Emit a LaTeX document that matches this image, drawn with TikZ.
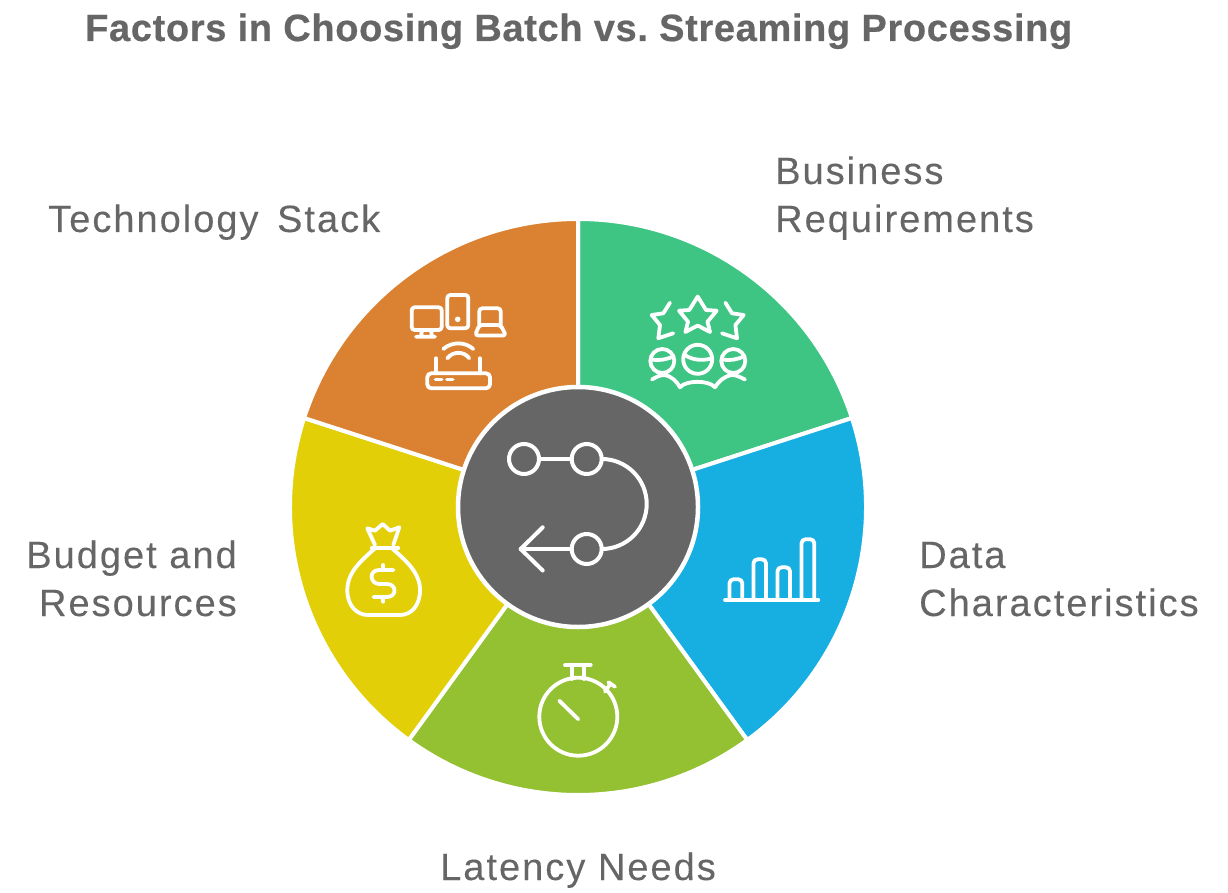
\documentclass[tikz,border=0pt]{standalone}
\usepackage{fontspec}
\setmainfont{Liberation Sans}[LetterSpace=5.3,FakeBold=0.15]
\newfontfamily\titlefam{Liberation Sans}[LetterSpace=1.74,FakeBold=0.5]
\definecolor{cgreen}{HTML}{3EC483}
\definecolor{cblue}{HTML}{17AEE2}
\definecolor{clime}{HTML}{94C131}
\definecolor{cyellow}{HTML}{E2CF08}
\definecolor{corange}{HTML}{DB8232}
\definecolor{cgray}{HTML}{666666}
\tikzset{
  wedgeshape/.style={draw=white,line width=4pt,line join=round},
  iconline/.style={draw=white,line width=3.8pt,line cap=round,line join=round},
  hubline/.style={draw=white,line width=4pt,line cap=round,line join=round},
  label/.style={text=cgray,font=\fontsize{38}{46}\selectfont\frenchspacing,inner sep=0pt,anchor=base west},
  labelr/.style={label,anchor=base east},
  titletext/.style={text=cgray,font=\titlefam\fontsize{38}{46}\selectfont\bfseries\frenchspacing,inner sep=0pt,anchor=base west}
}
\begin{document}
\begin{tikzpicture}[x=1pt,y=-1pt]
\useasboundingbox (0,0) rectangle (1228,893);
\fill[white] (0,0) rectangle (1228,893);
\coordinate (c) at (578,507);
\def\R{288}
\filldraw[wedgeshape,fill=cgreen]  (c) -- ++(-90:\R) arc[start angle=-90,end angle=-18,radius=\R] -- cycle;
\filldraw[wedgeshape,fill=cblue]   (c) -- ++(-18:\R) arc[start angle=-18,end angle=54,radius=\R] -- cycle;
\filldraw[wedgeshape,fill=clime]   (c) -- ++(54:\R) arc[start angle=54,end angle=126,radius=\R] -- cycle;
\filldraw[wedgeshape,fill=cyellow] (c) -- ++(126:\R) arc[start angle=126,end angle=198,radius=\R] -- cycle;
\filldraw[wedgeshape,fill=corange] (c) -- ++(198:\R) arc[start angle=198,end angle=270,radius=\R] -- cycle;
\filldraw[draw=white,line width=4.5pt,fill=cgray] (c) circle[radius=120];
% hub icon
\draw[hubline] (524,459) circle[radius=15];
\draw[hubline] (586.7,459) circle[radius=15];
\draw[hubline] (586.7,549) circle[radius=15];
\draw[hubline] (539,459) -- (571.7,459);
\draw[hubline] (601.7,459) arc[start angle=-90,end angle=90,radius=45];
\draw[hubline] (571.7,549) -- (520.7,549);
\draw[hubline] (542.7,527.3) -- (520.7,549) -- (542.7,570.5);
% stars and people
\draw[iconline] (697.7,296.5) -- (706,310) -- (716.7,310.7) -- (707.5,321.7) -- (710,332) -- (697.7,325.5) -- (685.4,332) -- (688,321.7) -- (679,310.7) -- (689.3,310) -- cycle;
\draw[iconline] (670,302.7) -- (663.3,313.3) -- (651.7,315) -- (660,325) -- (658.3,338.3) -- (673.3,333.3);
\draw[iconline] (725.4,302.7) -- (732,313.3) -- (743.7,315) -- (735.4,325) -- (737,338.3) -- (722,333.3);
\draw[iconline] (697.7,359.3) circle[radius=14.5];
\draw[iconline] (662.3,361) circle[radius=12];
\draw[iconline] (733.3,361) circle[radius=12];
\draw[iconline] (685,355) .. controls (692,360) and (702,361) .. (711.7,358.5);
\draw[iconline] (651.5,359.5) .. controls (658,361) and (666,359.5) .. (673.5,356.5);
\draw[iconline] (722.5,359.5) .. controls (729,361) and (737,359.5) .. (744,356.5);
\draw[iconline] (652,379.5) .. controls (656,377) and (660,375) .. (664,375) .. controls (672,376) and (677,382) .. (680,387.3) .. controls (686,380) and (709,380) .. (715,387.3) .. controls (718,382) and (724,376) .. (732,375) .. controls (736,375) and (740,377) .. (745,379.5);
% devices
\draw[iconline,rounded corners=3pt] (411.7,307.3) rectangle (441.7,330);
\draw[iconline] (422,330) -- (421,336.7) (431,330) -- (432,336.7) (416,336.7) -- (435,336.7);
\draw[iconline,rounded corners=3pt] (447.3,295) rectangle (468.3,328.3);
\fill[white] (457.7,319.3) circle[radius=2.8];
\draw[iconline,rounded corners=3pt] (479.3,325) -- (479.3,308.3) -- (500.7,308.3) -- (500.7,325);
\draw[iconline,rounded corners=3pt] (479.3,325) -- (500.7,325) -- (506,335.5) -- (475,335.5) -- cycle;
\draw[iconline,rounded corners=4pt] (427.3,373.3) rectangle (490,388.3);
\draw[iconline] (436,358.3) -- (436,373.3) (480,358.3) -- (480,373.3);
\draw[iconline] (435.5,379.5) -- (441.7,379.5) (447,379.5) -- (452.7,379.5);
\draw[iconline] (443.3,349) .. controls (452,341.5) and (465,341.5) .. (473.3,349);
\draw[iconline] (447.3,358.3) .. controls (453,351) and (464,351) .. (469.3,358.3);
% money bag
\draw[iconline] (371.7,548.3) -- (398.3,548.3);
\draw[iconline] (375,545) -- (367.3,528.3) -- (375,530.7) -- (382.7,524) -- (390,530.7) -- (399.3,527.3) -- (393.3,545);
\draw[iconline] (375,548.3) .. controls (362,560) and (347.3,572) .. (347.3,590) .. controls (347.3,606) and (357,615) .. (368,615) -- (400,615) .. controls (411,615) and (420,606) .. (420,590) .. controls (420,572) and (405,560) .. (392,548.3);
\draw[iconline] (383.3,565) -- (383.3,569.5) (383.3,597.5) -- (383.3,601.7);
\draw[iconline] (393.5,570) -- (379.5,570) .. controls (368,570) and (370,584) .. (379.5,584) -- (387,584) .. controls (397,584) and (397,597) .. (387,597) -- (373.5,597);
% stopwatch
\draw[iconline] (578.3,716.7) circle[radius=39];
\draw[iconline] (565,665) -- (590.7,665) (571.7,665) -- (571.7,679) (584,665) -- (584,679);
\draw[iconline] (605,691.7) -- (610.7,683.3) (608.3,682.3) -- (615,686.7);
\draw[iconline] (559.3,700.7) -- (578.3,719.3);
% bars
\draw[iconline] (725,600) -- (818.3,600);
\draw[iconline,rounded corners=4pt] (729.5,600) -- (729.5,579.3) -- (742.3,579.3) -- (742.3,600);
\draw[iconline,rounded corners=4pt] (753.5,600) -- (753.5,559.3) -- (766,559.3) -- (766,600);
\draw[iconline,rounded corners=4pt] (777.5,600) -- (777.5,567.3) -- (790,567.3) -- (790,600);
\draw[iconline,rounded corners=4pt] (801.5,600) -- (801.5,539.3) -- (814.3,539.3) -- (814.3,600);
% text
\node[titletext] (title) at (85,41) {Factors in Choosing Batch vs. Streaming Processing};
\node[label] (tech) at (48,232) {Technology\hspace{6pt} Stack};
\node[label] (bus1) at (775,184) {Business};
\node[label] (bus2) at (775,232) {Requirements};
\node[labelr] (bud1) at (237,568) {Budget and};
\node[labelr] (bud2) at (237,616) {Resources};
\node[label] (dat1) at (919,568) {Data};
\node[label] (dat2) at (919,616) {Characteristics};
\node[label] (lat) at (440,880) {Latency Needs};
\end{tikzpicture}
\end{document}
